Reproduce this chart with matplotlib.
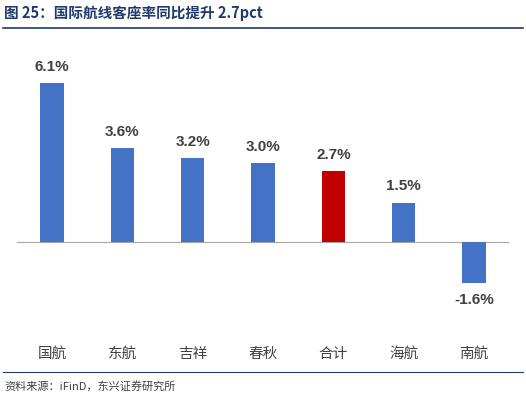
import matplotlib
matplotlib.use("Agg")
import matplotlib.pyplot as plt
from matplotlib.lines import Line2D

plt.rcParams['font.family'] = ['Noto Sans CJK SC', 'DejaVu Sans']

categories = ["国航", "东航", "吉祥", "春秋", "合计", "海航", "南航"]
values = [6.1, 3.6, 3.2, 3.0, 2.7, 1.5, -1.6]
labels = ["6.1%", "3.6%", "3.2%", "3.0%", "2.7%", "1.5%", "-1.6%"]
colors = ["#4472C4"] * 4 + ["#C00000"] + ["#4472C4"] * 2

fig = plt.figure(figsize=(5.26, 4.01), dpi=100)
ax = fig.add_axes([0.032, 0.202, 0.936, 0.683])
x = list(range(len(categories)))
ax.bar(x, values, width=0.33, color=colors, zorder=2)
ax.axhline(0, color="#A6A6A6", lw=0.8, zorder=1)
ax.set_xlim(-0.5, 6.5)
ax.set_ylim(-3, 7.5)
for s in ax.spines.values():
    s.set_visible(False)
ax.set_xticks([]); ax.set_yticks([])
for xi, v, lab in zip(x, values, labels):
    y = v + 0.35 if v >= 0 else v - 0.35
    ax.text(xi, y, lab, ha="center", va="bottom" if v >= 0 else "top",
            fontsize=11, fontweight="bold", color="#404040",
            family=["Liberation Sans", "DejaVu Sans"])
    ax.text(xi, -4.3, categories[xi], ha="center", va="center", fontsize=10.5,
            color="#404040", clip_on=False)

fig.text(0.008, 0.968, "图 25：国际航线客座率同比提升 2.7pct", fontsize=10.5,
         fontweight="bold", color="#1F3A6E", va="center", ha="left")
fig.add_artist(Line2D([0.005, 0.995], [0.93, 0.93], color="#1F3A6E", lw=1.2))
fig.add_artist(Line2D([0.005, 0.995], [0.072, 0.072], color="#1F3A6E", lw=0.8))
fig.text(0.008, 0.037, "资料来源：iFinD，东兴证券研究所", fontsize=8, style="italic",
         color="#404040", va="center", ha="left")
fig.savefig("out.png", dpi=100)
